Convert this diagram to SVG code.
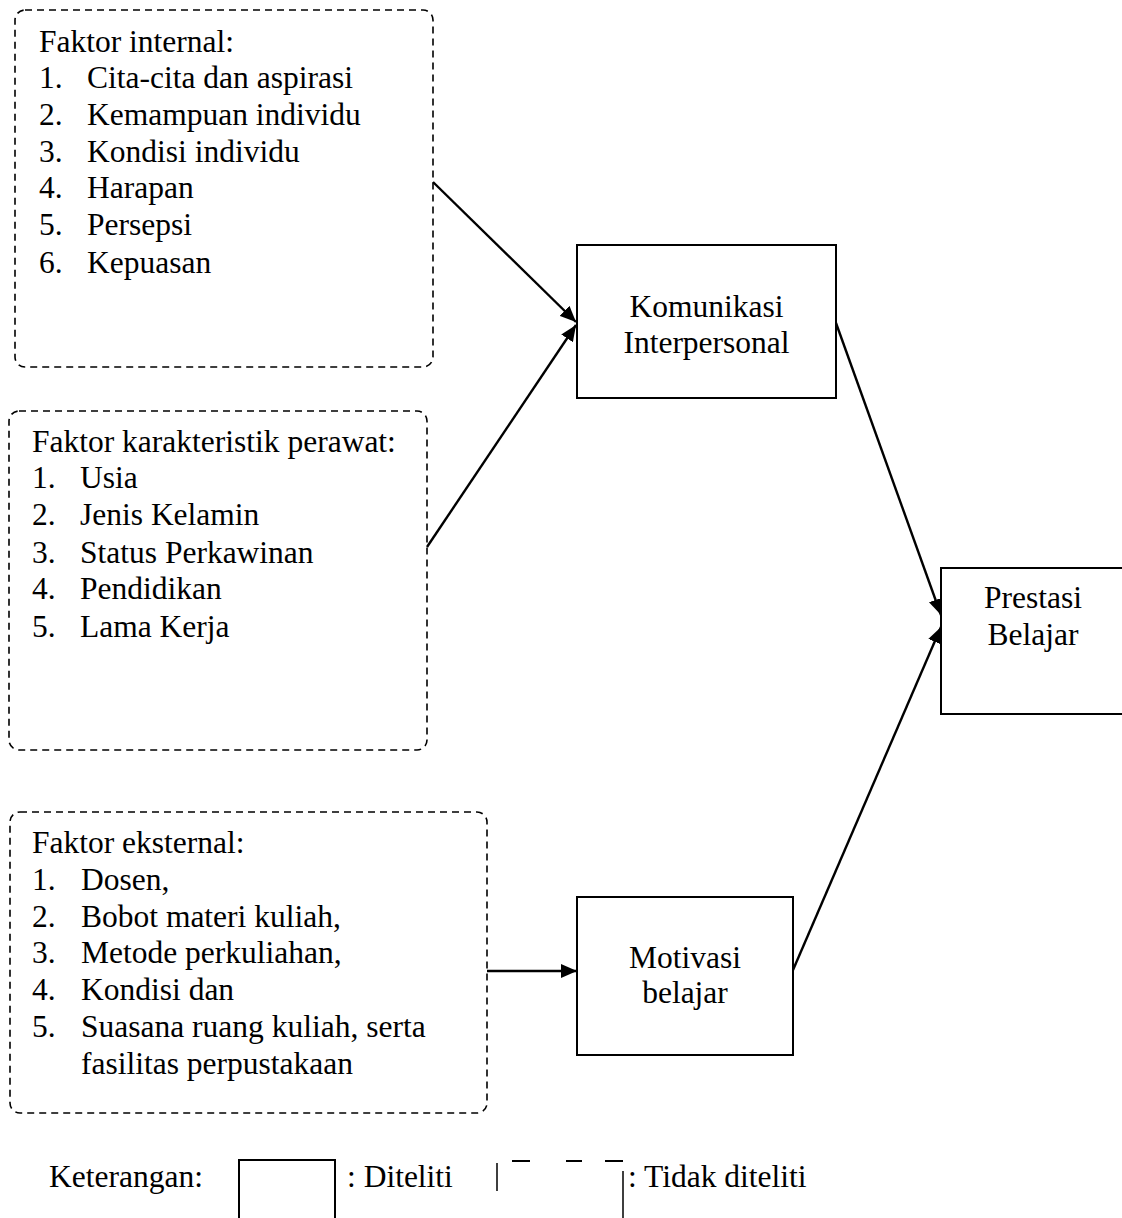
<svg xmlns="http://www.w3.org/2000/svg" width="1122" height="1218" viewBox="0 0 1122 1218">
<style>
.t{font-family:"Liberation Serif","Times New Roman",serif;font-size:31.5px;fill:#000}
.c{text-anchor:middle}
.dash{fill:none;stroke:#000;stroke-width:1.6;stroke-dasharray:7 5}
.box{fill:#fff;stroke:#000;stroke-width:2}
.ln{fill:none;stroke:#000;stroke-width:2}
.edge{fill:none;stroke:#000;stroke-width:2.4;marker-end:url(#ah)}
</style>
<defs>
<marker id="ah" markerUnits="userSpaceOnUse" markerWidth="17" markerHeight="14" refX="16" refY="7" orient="auto">
<path d="M0,0 L16,7 L0,14 z" fill="#000"/>
</marker>
</defs>
<rect width="1122" height="1218" fill="#fff"/>

<g id="connectors">
<line class="edge" x1="433" y1="182" x2="576" y2="322"/>
<line class="edge" x1="427" y1="547" x2="576" y2="325"/>
<line class="edge" x1="836" y1="323" x2="941" y2="615"/>
<line class="edge" x1="793" y1="970" x2="941" y2="627"/>
<line class="edge" x1="487" y1="971" x2="577" y2="971"/>
</g>

<g id="faktor-internal">
<rect class="dash" x="15" y="10" width="418" height="357" rx="10"/>
<text class="t" x="39" y="52">Faktor internal:</text>
<text class="t" x="39" y="88">1.</text><text class="t" x="87" y="88">Cita-cita dan aspirasi</text>
<text class="t" x="39" y="125">2.</text><text class="t" x="87" y="125">Kemampuan individu</text>
<text class="t" x="39" y="162">3.</text><text class="t" x="87" y="162">Kondisi individu</text>
<text class="t" x="39" y="198">4.</text><text class="t" x="87" y="198">Harapan</text>
<text class="t" x="39" y="235">5.</text><text class="t" x="87" y="235">Persepsi</text>
<text class="t" x="39" y="273">6.</text><text class="t" x="87" y="273">Kepuasan</text>
</g>

<g id="faktor-karakteristik">
<rect class="dash" x="9" y="411" width="418" height="339" rx="10"/>
<text class="t" x="32" y="452">Faktor karakteristik perawat:</text>
<text class="t" x="32" y="488">1.</text><text class="t" x="80" y="488">Usia</text>
<text class="t" x="32" y="525">2.</text><text class="t" x="80" y="525">Jenis Kelamin</text>
<text class="t" x="32" y="563">3.</text><text class="t" x="80" y="563">Status Perkawinan</text>
<text class="t" x="32" y="599">4.</text><text class="t" x="80" y="599">Pendidikan</text>
<text class="t" x="32" y="637">5.</text><text class="t" x="80" y="637">Lama Kerja</text>
</g>

<g id="faktor-eksternal">
<rect class="dash" x="10" y="812" width="477" height="301" rx="10"/>
<text class="t" x="32" y="853">Faktor eksternal:</text>
<text class="t" x="32" y="890">1.</text><text class="t" x="81" y="890">Dosen,</text>
<text class="t" x="32" y="927">2.</text><text class="t" x="81" y="927">Bobot materi kuliah,</text>
<text class="t" x="32" y="963">3.</text><text class="t" x="81" y="963">Metode perkuliahan,</text>
<text class="t" x="32" y="1000">4.</text><text class="t" x="81" y="1000">Kondisi dan</text>
<text class="t" x="32" y="1037">5.</text><text class="t" x="81" y="1037">Suasana ruang kuliah, serta</text>
<text class="t" x="81" y="1074">fasilitas perpustakaan</text>
</g>

<g id="komunikasi">
<rect class="box" x="577" y="245" width="259" height="153"/>
<text class="t c" x="706.5" y="317">Komunikasi</text>
<text class="t c" x="706.5" y="353">Interpersonal</text>
</g>

<g id="prestasi">
<rect class="box" x="941" y="568" width="200" height="146"/>
<text class="t c" x="1033" y="608">Prestasi</text>
<text class="t c" x="1033" y="645">Belajar</text>
</g>

<g id="motivasi">
<rect class="box" x="577" y="897" width="216" height="158"/>
<text class="t c" x="685" y="968">Motivasi</text>
<text class="t c" x="685" y="1003">belajar</text>
</g>

<g id="legend">
<path class="ln" d="M239,1222 V1160 H335 V1222"/>
<path fill="none" stroke="#000" stroke-width="1.5" d="M497,1163 V1191 M623,1171 V1222"/>
<path fill="none" stroke="#000" stroke-width="2" d="M512,1161 H530 M566,1161 H582 M605,1161 H623"/>
<text class="t" x="49" y="1187">Keterangan:</text>
<text class="t" x="347" y="1187">: Diteliti</text>
<text class="t" x="628" y="1187">: Tidak diteliti</text>
</g>
</svg>
